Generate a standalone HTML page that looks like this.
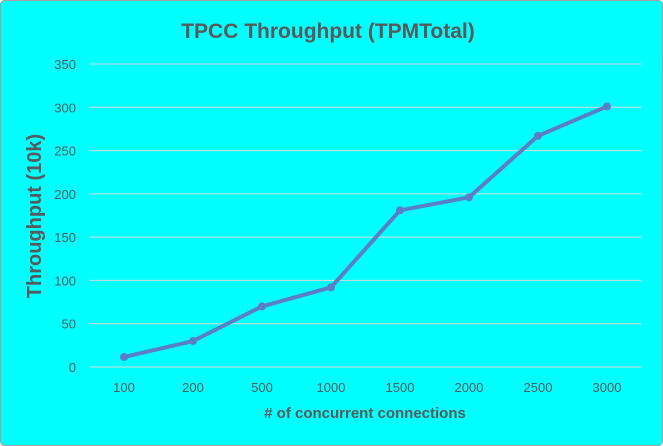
<!DOCTYPE html>
<html><head><style>
body{margin:0;background:#fff;}
#c{position:relative;width:663px;height:446px;overflow:hidden;}
svg text{font-family:"Liberation Sans",sans-serif;}
</style></head><body>
<div id="c">
<svg id="s" width="663" height="446" xmlns="http://www.w3.org/2000/svg">
<rect x="0.5" y="0.5" width="662" height="445" rx="4" fill="#00ffff" stroke="#a0a0a0"/>
<text x="328" y="38" text-anchor="middle" font-size="21" font-weight="bold" fill="#595959">TPCC Throughput (TPMTotal)</text>
<text transform="translate(41,216) rotate(-90)" text-anchor="middle" font-size="20" font-weight="bold" fill="#595959">Throughput (10k)</text>
<text x="365" y="418" text-anchor="middle" font-size="15" font-weight="bold" fill="#595959"># of concurrent connections</text>
<g id="grid"></g><g id="series"></g>
</svg>
</div>
<script>
const categories=["100","200","500","1000","1500","2000","2500","3000"];
const values=[11.5,30,70,92,181,196,267,301];
const yTicks=[0,50,100,150,200,250,300,350];
const NS="http://www.w3.org/2000/svg";
const L=89.5,R=641.5,T=64,B=367,yMax=350;
const x=i=>L+(R-L)/categories.length*(i+0.5);
const y=v=>B-(B-T)*v/yMax;
const g=document.getElementById('grid'),s=document.getElementById('series');
function mk(t,a,p){const e=document.createElementNS(NS,t);for(const k in a)e.setAttribute(k,a[k]);p.appendChild(e);return e;}
yTicks.forEach(v=>{
 const l=mk('line',{x1:L,x2:R,y1:y(v),y2:y(v),stroke:'#d9d9d9','stroke-width':1},g);
 
 
 const t=mk('text',{x:76,y:y(v)+5,'text-anchor':'end','font-size':13,fill:'#595959'},g);
 t.textContent=v;
 
 
});
categories.forEach((c,i)=>{
 const t=mk('text',{x:x(i),y:392,'text-anchor':'middle','font-size':13,fill:'#595959'},g);
 t.textContent=c;
 
 
});
const line=mk('polyline',{points:values.map((v,i)=>x(i)+','+y(v)).join(' '),fill:'none',stroke:'#5b7fc6','stroke-width':4,'stroke-linejoin':'round'},s);


values.forEach((v,i)=>{
 const p=mk('circle',{cx:x(i),cy:y(v),r:4,fill:'#5b7fc6'},s);
 
 
});
</script>
</body></html>
